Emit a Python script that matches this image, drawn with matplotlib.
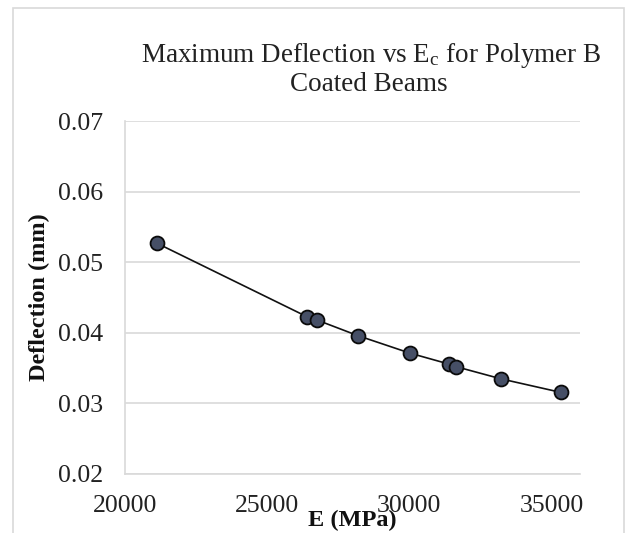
import matplotlib
matplotlib.use("Agg")
import matplotlib.pyplot as plt
from matplotlib.patches import Rectangle

# data
modulus = [21116, 26398, 26750, 28194, 30035, 31384, 31644, 33239, 35317]
deflection = [0.0527, 0.04228, 0.04181, 0.03959, 0.0371, 0.03558, 0.0352, 0.03346, 0.03157]
x_ticks = [20000, 25000, 30000, 35000]
y_ticks = [0.02, 0.03, 0.04, 0.05, 0.06, 0.07]

plt.rcParams['font.family'] = ['Liberation Serif', 'DejaVu Serif']
plt.rcParams['mathtext.fontset'] = 'custom'
plt.rcParams['mathtext.rm'] = 'Liberation Serif'
plt.rcParams['mathtext.it'] = 'Liberation Serif'

W, H = 628, 533
fig = plt.figure(figsize=(W / 100, H / 100), dpi=100)
fig.patch.set_facecolor('white')

# outer chart frame
fig.patches.append(Rectangle((13 / W, -0.01), (624 - 13) / W, 1.01 - 8 / H,
                             transform=fig.transFigure, fill=False,
                             edgecolor='#d9d9d9', linewidth=1.2))

ax = fig.add_axes([125 / W, 1 - 474 / H, (580 - 125) / W, (474 - 121) / H])
ax.set_xlim(20000, 36000)
ax.set_ylim(0.02, 0.07)
ax.set_xticks(x_ticks)
ax.set_yticks(y_ticks)
ax.set_xticklabels([str(t) for t in x_ticks])
ax.set_yticklabels(['%.2f' % t for t in y_ticks])
ax.tick_params(length=0, labelsize=18.5, colors='#222222')
ax.tick_params(axis='x', pad=15)
ax.tick_params(axis='y', pad=16)

ax.grid(True, axis='y', color='#d9d9d9', linewidth=1.2)
ax.set_axisbelow(True)
for side in ['top', 'right']:
    ax.spines[side].set_visible(False)
for side in ['left', 'bottom']:
    ax.spines[side].set_color('#d9d9d9')
    ax.spines[side].set_linewidth(1.2)

ax.plot(modulus, deflection, color='#111111', linewidth=1.2, zorder=2)
ax.plot(modulus, deflection, linestyle='none', marker='o', markersize=10,
        markerfacecolor='#464f66', markeredgecolor='#0a0a0a',
        markeredgewidth=1.3, zorder=3)

# title and axis labels
fig.text(371 / W, 1 - 62 / H, 'Maximum Deflection vs E$_{\\mathregular{c}}$ for Polymer B',
         ha='center', va='baseline', fontsize=19.5, color='#222222')
fig.text(369 / W, 1 - 91 / H, 'Coated Beams',
         ha='center', va='baseline', fontsize=19.5, color='#222222')
fig.text(352 / W, 1 - 526 / H, 'E (MPa)', ha='center', va='baseline',
         fontsize=17.5, fontweight='bold', color='#111111')
fig.text(39 / W, 1 - 297 / H, 'Deflection (mm)', ha='center', va='center',
         rotation=90, fontsize=17.5, fontweight='bold', color='#111111')

fig.savefig('out.png', dpi=100)
